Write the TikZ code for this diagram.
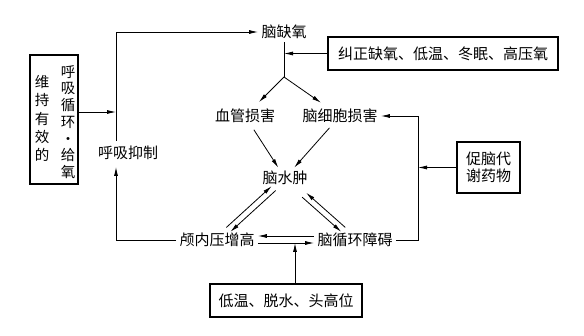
\documentclass[tikz,border=0pt]{standalone}
\usepackage{fontspec}
\newfontfamily\cjk{Noto Sans CJK SC}
\usetikzlibrary{arrows.meta}
\begin{document}
\begin{tikzpicture}[x=1pt,y=-1pt,line width=0.8pt,>={Latex[length=9pt,width=4pt]},
  every node/.style={inner sep=3pt,font=\cjk\fontsize{15}{17}\selectfont},
  box/.style={draw,line width=1.1pt}]
\useasboundingbox (0,0) rectangle (584,336);
\node[box,minimum width=48pt,minimum height=129pt] (care) at (54,119.5) {};
\node[align=center,font=\cjk\fontsize{14.5}{18.3}\selectfont] (careL) at (42,118.5) {维\\持\\有\\效\\的};
\node[align=center,font=\cjk\fontsize{14.5}{16.7}\selectfont] (careR) at (68,122) {呼\\吸\\循\\环\\・\\给\\氧};
\node (resp) at (128,153) {呼吸抑制};
\node (hypoxia) at (284,32) {脑缺氧};
\node[box,minimum width=230pt,minimum height=33pt] (correct) at (443,53.5) {纠正缺氧、低温、冬眠、高压氧};
\node (vascular) at (245,116) {血管损害};\node (cell) at (340,116) {脑细胞损害};
\node (edema) at (285,178) {脑水肿};
\node[box,minimum width=63pt,minimum height=51pt,align=center] (drug) at (488.5,167.5) {促脑代\\谢药物};
\node (icp) at (217,240) {颅内压增高};\node (circ) at (355,240) {脑循环障碍};
\node[box,minimum width=152pt,minimum height=33pt] (cool) at (286,300.5) {低温、脱水、头高位};
\coordinate (rsTop) at (116,141);\coordinate (rsBot) at (116,167);\coordinate (jLeft) at (116,112);
\coordinate (split) at (284,77);\coordinate (rTop) at (418,116);\coordinate (jBot) at (295,243);
\draw[->] (rsTop) |- (hypoxia.west);\draw[->] (care.east |- jLeft) -- (jLeft);
\draw[->] (icp.west) -| (rsBot);
\draw (hypoxia.south) -- (split);\draw[->] (correct.west) -- (correct.west -| split);
\draw[->,shorten >=5pt] (split) -- (vascular);\draw[->,shorten >=5pt] (split) -- (cell);
\draw[->] (circ.east) -| (rTop) -- (cell.east);\draw[->] (drug.west) -- (drug.west -| rTop);
\draw[->,shorten <=4pt] (vascular) -- (edema);\draw[->,shorten <=2pt] (cell) -- (edema);
\draw[->,transform canvas={shift={(-2pt,2.2pt)}}] (icp) -- (edema);
\draw[->,transform canvas={shift={(2pt,-2.2pt)}}] (edema) -- (icp);
\draw[->,shorten <=10pt,transform canvas={shift={(-2pt,-2.2pt)}}] (edema) -- (circ);
\draw[->,shorten >=10pt,transform canvas={shift={(2pt,2.2pt)}}] (circ) -- (edema);
\draw[->] ([yshift=4pt]circ.west) -- ([yshift=4pt]icp.east);
\draw[->] ([yshift=-3pt]icp.east) -- ([yshift=-3pt]circ.west);
\draw[->] (cool.north -| jBot) -- (jBot);
\end{tikzpicture}
\end{document}
